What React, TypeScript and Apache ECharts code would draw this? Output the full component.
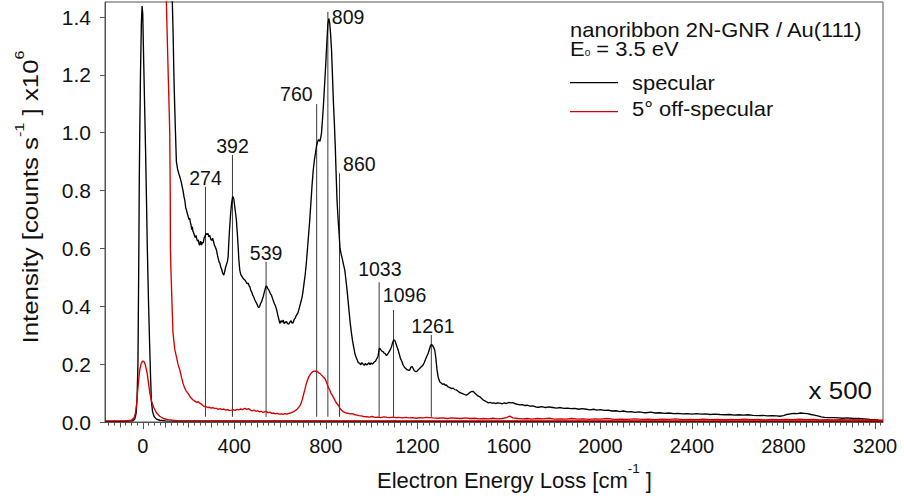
import { useEffect, useRef } from 'react';
import * as echarts from 'echarts';

const FONT = '"Liberation Sans", Arial, Helvetica, sans-serif';
const INK = '#111111';
const BLACK = '#000000';
const RED = '#d40000';

// Tick labels
const xTickValues = [0, 400, 800, 1200, 1600, 2000, 2400, 2800, 3200];
const yTickValues = [0, 0.2, 0.4, 0.6, 0.8, 1.0, 1.2, 1.4];

// Specular spectrum, elastic peak (unscaled) [loss cm^-1, intensity x10^6]
const specularElastic: number[][] = [
  [-165, 0.002], [-80, 0.002], [-45, 0.004], [-35, 0.01], [-29, 0.03], [-25, 0.08],
  [-21, 0.2], [-19, 0.4], [-17, 0.6], [-15, 0.85], [-13, 1.0], [-10, 1.2], [-6, 1.38],
  [-3, 1.438], [0, 1.41], [4, 1.25], [8, 1.1], [12, 0.95], [16, 0.78], [20, 0.6],
  [25, 0.42], [30, 0.27], [34, 0.16], [38, 0.07], [43, 0.035], [50, 0.018], [60, 0.01],
  [75, 0.006], [100, 0.004], [150, 0.003], [600, 0.003], [1200, 0.002], [2000, 0.002],
  [3235, 0.002],
];

// Specular spectrum, loss region magnified x500
const specularLoss: number[][] = [
  [129, 1.46], [133, 1.33], [136, 1.2], [140, 1.08], [143, 1.0], [147, 0.9], [152, 0.875],
  [157, 0.86], [162, 0.848], [168, 0.83], [172, 0.815], [176, 0.8], [180, 0.78], [184, 0.765],
  [188, 0.74], [191, 0.733], [195, 0.72], [198, 0.712], [202, 0.7], [205, 0.705], [208, 0.69],
  [211, 0.682], [214, 0.665], [217, 0.675], [219, 0.66], [222, 0.655], [226, 0.645],
  [229, 0.638], [233, 0.645], [236, 0.632], [240, 0.625], [243, 0.63], [246, 0.615],
  [249, 0.612], [253, 0.625], [257, 0.612], [261, 0.622], [264, 0.618], [268, 0.635],
  [272, 0.642], [276, 0.652], [280, 0.648], [285, 0.652], [289, 0.64], [293, 0.645],
  [297, 0.632], [301, 0.628], [305, 0.635], [309, 0.625], [313, 0.612], [317, 0.605],
  [322, 0.595], [326, 0.578], [330, 0.565], [334, 0.552], [337, 0.549], [341, 0.535],
  [345, 0.528], [349, 0.515], [354, 0.508], [358, 0.52], [362, 0.535], [366, 0.545],
  [370, 0.555], [373, 0.57], [376, 0.62], [380, 0.675], [384, 0.72], [388, 0.755],
  [392, 0.775], [395, 0.779], [398, 0.77], [402, 0.745], [406, 0.72], [409, 0.7],
  [413, 0.655], [417, 0.606], [420, 0.56], [424, 0.525], [428, 0.51], [432, 0.505],
  [436, 0.5], [440, 0.495], [446, 0.491], [451, 0.485], [456, 0.478], [461, 0.48],
  [465, 0.47], [468, 0.468], [472, 0.455], [476, 0.45], [480, 0.44], [485, 0.432],
  [490, 0.422], [494, 0.415], [498, 0.41], [503, 0.4], [507, 0.395], [511, 0.4],
  [515, 0.41], [519, 0.415], [523, 0.425], [527, 0.435], [531, 0.448], [535, 0.46],
  [539, 0.47], [543, 0.468], [547, 0.46], [552, 0.455], [557, 0.445], [562, 0.439],
  [566, 0.43], [571, 0.418], [576, 0.408], [581, 0.399], [586, 0.385], [590, 0.37],
  [595, 0.355], [599, 0.341], [604, 0.35], [609, 0.345], [614, 0.352], [618, 0.34],
  [623, 0.345], [628, 0.347], [633, 0.34], [638, 0.338], [643, 0.345], [648, 0.35],
  [652, 0.342], [657, 0.343], [662, 0.355], [667, 0.36], [672, 0.37], [677, 0.375],
  [681, 0.385], [686, 0.4], [691, 0.415], [696, 0.43], [700, 0.45], [705, 0.48],
  [710, 0.51], [715, 0.55], [720, 0.6], [725, 0.65], [730, 0.7], [735, 0.76], [740, 0.82],
  [745, 0.87], [750, 0.905], [755, 0.93], [759, 0.952], [763, 0.965], [767, 0.975],
  [771, 0.975], [774, 0.97], [777, 0.98], [781, 0.998], [785, 1.04], [790, 1.1],
  [795, 1.171], [800, 1.24], [805, 1.32], [809, 1.375], [813, 1.395], [817, 1.38],
  [821, 1.34], [825, 1.286], [829, 1.2], [833, 1.11], [837, 1.04], [841, 0.96],
  [845, 0.86], [849, 0.767], [853, 0.71], [858, 0.652], [862, 0.6], [867, 0.58],
  [872, 0.565], [877, 0.545], [883, 0.525], [888, 0.49], [893, 0.455], [897, 0.422],
  [902, 0.38], [907, 0.34], [912, 0.307], [917, 0.28], [922, 0.258], [927, 0.237],
  [932, 0.225], [937, 0.215], [942, 0.205], [948, 0.203], [953, 0.198], [958, 0.205],
  [963, 0.2], [968, 0.196], [973, 0.203], [978, 0.197], [983, 0.2], [988, 0.205],
  [993, 0.198], [998, 0.204], [1003, 0.2], [1007, 0.203], [1012, 0.208], [1017, 0.21],
  [1022, 0.218], [1028, 0.226], [1033, 0.252], [1036, 0.255], [1040, 0.25], [1045, 0.245],
  [1050, 0.243], [1055, 0.238], [1060, 0.236], [1064, 0.23], [1068, 0.232], [1073, 0.238],
  [1078, 0.245], [1083, 0.252], [1087, 0.26], [1091, 0.272], [1096, 0.283], [1101, 0.283],
  [1106, 0.272], [1111, 0.26], [1116, 0.249], [1121, 0.235], [1126, 0.22], [1132, 0.21],
  [1138, 0.197], [1143, 0.19], [1148, 0.186], [1153, 0.182], [1158, 0.18], [1163, 0.178],
  [1167, 0.18], [1172, 0.19], [1176, 0.192], [1181, 0.186], [1186, 0.178], [1191, 0.175],
  [1196, 0.174], [1201, 0.178], [1206, 0.182], [1211, 0.186], [1216, 0.19], [1220, 0.193],
  [1225, 0.197], [1230, 0.205], [1235, 0.215], [1240, 0.225], [1247, 0.237], [1252, 0.25],
  [1257, 0.262], [1262, 0.268], [1266, 0.265], [1271, 0.258], [1276, 0.249], [1281, 0.22],
  [1286, 0.18], [1291, 0.155], [1298, 0.139], [1304, 0.135], [1310, 0.13], [1316, 0.132],
  [1322, 0.127], [1327, 0.128], [1333, 0.122], [1339, 0.12], [1345, 0.118], [1351, 0.115],
  [1357, 0.117], [1363, 0.112], [1371, 0.111], [1378, 0.106], [1385, 0.102], [1392, 0.1],
  [1400, 0.097], [1408, 0.095], [1415, 0.093], [1422, 0.097], [1429, 0.102], [1436, 0.105],
  [1444, 0.106], [1451, 0.1], [1458, 0.095], [1465, 0.09], [1473, 0.087], [1480, 0.082],
  [1488, 0.076], [1495, 0.073], [1502, 0.07], [1510, 0.066], [1518, 0.068], [1526, 0.065],
  [1534, 0.066], [1542, 0.064], [1550, 0.066], [1560, 0.065], [1570, 0.063], [1580, 0.066],
  [1590, 0.064], [1600, 0.068], [1610, 0.066], [1618, 0.067], [1628, 0.063], [1638, 0.061],
  [1648, 0.059], [1660, 0.06], [1670, 0.057], [1680, 0.058], [1692, 0.055], [1705, 0.056],
  [1718, 0.052], [1730, 0.051], [1745, 0.053], [1760, 0.05], [1775, 0.052], [1792, 0.05],
  [1808, 0.048], [1825, 0.05], [1840, 0.047], [1856, 0.048], [1872, 0.046], [1888, 0.047],
  [1905, 0.044], [1920, 0.046], [1939, 0.044], [1955, 0.042], [1970, 0.044], [1985, 0.041],
  [2000, 0.043], [2018, 0.04], [2035, 0.041], [2050, 0.038], [2068, 0.039], [2085, 0.036],
  [2100, 0.038], [2118, 0.035], [2135, 0.036], [2150, 0.033], [2168, 0.035], [2185, 0.033],
  [2200, 0.032], [2220, 0.034], [2240, 0.031], [2260, 0.032], [2280, 0.03], [2300, 0.031],
  [2320, 0.029], [2340, 0.03], [2360, 0.028], [2380, 0.029], [2400, 0.027], [2420, 0.029],
  [2440, 0.027], [2460, 0.028], [2480, 0.026], [2500, 0.027], [2522, 0.026], [2545, 0.025],
  [2565, 0.026], [2585, 0.024], [2605, 0.025], [2625, 0.024], [2645, 0.025], [2667, 0.023],
  [2690, 0.022], [2710, 0.023], [2730, 0.021], [2750, 0.022], [2770, 0.021], [2784, 0.02],
  [2800, 0.022], [2815, 0.026], [2830, 0.028], [2845, 0.03], [2860, 0.029], [2875, 0.031],
  [2890, 0.03], [2905, 0.029], [2920, 0.026], [2935, 0.024], [2950, 0.021], [2965, 0.018],
  [2980, 0.016], [3000, 0.015], [3020, 0.015], [3040, 0.014], [3060, 0.013], [3080, 0.014],
  [3105, 0.012], [3130, 0.012], [3155, 0.011], [3178, 0.009], [3200, 0.008], [3215, 0.007],
];

// 5° off-specular spectrum, elastic peak (unscaled)
const offSpecularElastic: number[][] = [
  [-165, 0.004], [-80, 0.004], [-50, 0.006], [-38, 0.015], [-32, 0.03], [-27, 0.06],
  [-23, 0.1], [-18, 0.145], [-13, 0.18], [-7, 0.202], [0, 0.211], [6, 0.208], [12, 0.195],
  [19, 0.17], [25, 0.135], [31, 0.1], [39, 0.07], [48, 0.05], [60, 0.032], [74, 0.02],
  [90, 0.012], [110, 0.008], [150, 0.005], [300, 0.004], [1000, 0.004], [2000, 0.004],
  [3235, 0.004],
];

// 5° off-specular spectrum, loss region magnified x500
const offSpecularLoss: number[][] = [
  [103, 1.46], [108, 1.3], [113, 1.15], [118, 1.0], [120, 0.8], [121, 0.6], [123, 0.53],
  [125, 0.48], [129, 0.38], [132, 0.31], [136, 0.28], [140, 0.25], [147, 0.226], [154, 0.2],
  [162, 0.18], [169, 0.155], [176, 0.134], [183, 0.118], [190, 0.107], [198, 0.099],
  [205, 0.09], [212, 0.082], [220, 0.076], [228, 0.072], [236, 0.068], [243, 0.07],
  [249, 0.065], [256, 0.062], [264, 0.056], [271, 0.053], [278, 0.052], [285, 0.05],
  [292, 0.051], [299, 0.048], [306, 0.05], [314, 0.047], [322, 0.047], [330, 0.044],
  [338, 0.046], [346, 0.043], [354, 0.045], [362, 0.041], [370, 0.043], [378, 0.04],
  [388, 0.041], [396, 0.043], [404, 0.04], [412, 0.044], [420, 0.042], [428, 0.045],
  [436, 0.043], [446, 0.047], [454, 0.044], [462, 0.046], [470, 0.042], [478, 0.038],
  [486, 0.041], [494, 0.037], [502, 0.039], [510, 0.035], [518, 0.037], [526, 0.033],
  [534, 0.036], [541, 0.036], [548, 0.032], [556, 0.034], [564, 0.03], [572, 0.031],
  [580, 0.028], [588, 0.03], [596, 0.027], [606, 0.028], [614, 0.026], [622, 0.029],
  [630, 0.027], [638, 0.03], [645, 0.031], [652, 0.033], [660, 0.036], [668, 0.04],
  [675, 0.045], [681, 0.05], [686, 0.055], [692, 0.065], [698, 0.08], [703, 0.096],
  [708, 0.111], [714, 0.13], [720, 0.145], [725, 0.155], [730, 0.162], [735, 0.168],
  [740, 0.172], [744, 0.174], [749, 0.176], [754, 0.175], [759, 0.177], [764, 0.174],
  [769, 0.17], [774, 0.168], [780, 0.163], [786, 0.158], [790, 0.155], [795, 0.151],
  [801, 0.142], [806, 0.13], [812, 0.118], [817, 0.111], [822, 0.1], [827, 0.094],
  [832, 0.087], [838, 0.078], [843, 0.07], [849, 0.063], [854, 0.059], [860, 0.05],
  [865, 0.044], [870, 0.04], [875, 0.036], [882, 0.033], [890, 0.031], [898, 0.03],
  [906, 0.028], [914, 0.029], [919, 0.028], [928, 0.025], [936, 0.024], [945, 0.022],
  [955, 0.021], [965, 0.019], [978, 0.018], [990, 0.017], [1002, 0.019], [1015, 0.016],
  [1028, 0.017], [1040, 0.015], [1055, 0.018], [1068, 0.016], [1080, 0.015], [1095, 0.017],
  [1108, 0.015], [1120, 0.016], [1135, 0.014], [1150, 0.016], [1165, 0.014], [1180, 0.015],
  [1195, 0.013], [1210, 0.015], [1225, 0.014], [1240, 0.016], [1255, 0.015], [1270, 0.014],
  [1290, 0.013], [1310, 0.014], [1330, 0.012], [1350, 0.014], [1370, 0.013], [1390, 0.012],
  [1410, 0.014], [1430, 0.012], [1450, 0.013], [1470, 0.011], [1490, 0.012], [1510, 0.011],
  [1530, 0.013], [1550, 0.011], [1570, 0.012], [1590, 0.015], [1604, 0.02], [1618, 0.014],
  [1640, 0.012], [1660, 0.011], [1680, 0.012], [1700, 0.01], [1725, 0.012], [1750, 0.011],
  [1775, 0.013], [1800, 0.01], [1825, 0.011], [1850, 0.01], [1875, 0.012], [1900, 0.01],
  [1925, 0.011], [1950, 0.009], [1975, 0.011], [2000, 0.01], [2030, 0.012], [2060, 0.009],
  [2090, 0.01], [2120, 0.009], [2150, 0.011], [2180, 0.009], [2210, 0.01], [2240, 0.008],
  [2270, 0.01], [2300, 0.009], [2330, 0.011], [2360, 0.008], [2390, 0.009], [2420, 0.008],
  [2450, 0.01], [2480, 0.008], [2510, 0.009], [2540, 0.008], [2570, 0.009], [2600, 0.008],
  [2630, 0.01], [2660, 0.008], [2690, 0.009], [2720, 0.007], [2750, 0.009], [2780, 0.008],
  [2810, 0.009], [2840, 0.008], [2870, 0.01], [2900, 0.008], [2930, 0.009], [2960, 0.007],
  [2990, 0.008], [3020, 0.007], [3050, 0.008], [3080, 0.007], [3110, 0.008], [3140, 0.007],
  [3170, 0.006], [3200, 0.007], [3235, 0.006],
];

// Assigned loss peaks (cm^-1) and the height their marker lines reach
const peakPositions = [274, 392, 539, 760, 809, 860, 1033, 1096, 1261];
const peakTops = [0.813, 0.923, 0.554, 1.099, 1.418, 0.86, 0.483, 0.387, 0.301];
const peakBase = 0.018;

// Label placement relative to the top of each marker line (px)
const peakLabelPlacement: { dx: number; dy: number; align: 'left' | 'center' | 'right' }[] = [
  { dx: 0, dy: -8.5, align: 'center' },
  { dx: 0, dy: -9.2, align: 'center' },
  { dx: 0, dy: -8.7, align: 'center' },
  { dx: -4, dy: -10, align: 'right' },
  { dx: 4, dy: 5, align: 'left' },
  { dx: 3.5, dy: -9.3, align: 'left' },
  { dx: 0.7, dy: -12.8, align: 'center' },
  { dx: 11, dy: -15.5, align: 'center' },
  { dx: 1.7, dy: -8.7, align: 'center' },
];

const X_MIN = -165;
const X_MAX = 3235;
const Y_MIN = 0;
const Y_MAX = 1.452;

function tickRange(step: number, skip: number): number[] {
  const out: number[] = [];
  for (let v = Math.ceil(X_MIN / step) * step; v <= X_MAX; v += step) {
    if (v % skip !== 0) out.push(v);
  }
  return out;
}
const xMinorTicks = tickRange(25, 100);
const xMediumTicks = tickRange(100, 400);

const AXIS_COLOR = '#555555';
const CURVE_WIDTH = 1.35;

function lineSeries(name: string, data: number[][], color: string) {
  return {
    name,
    type: 'line',
    data,
    xAxisIndex: 0,
    yAxisIndex: 0,
    showSymbol: false,
    symbol: 'none',
    silent: true,
    lineStyle: { color, width: CURVE_WIDTH },
    itemStyle: { color },
  };
}

function tickAxis(values: number[], length: number) {
  return {
    type: 'value',
    gridIndex: 0,
    position: 'bottom',
    min: X_MIN,
    max: X_MAX,
    axisLine: { show: false, onZero: false },
    axisLabel: { show: false },
    splitLine: { show: false },
    axisTick: {
      show: true,
      length,
      customValues: values,
      lineStyle: { color: AXIS_COLOR, width: 1 },
    },
  };
}

const supRich = (size: number, line: number) => ({
  m: { fontSize: size, lineHeight: line, fontFamily: FONT, fill: INK },
  s: { fontSize: 13.5, lineHeight: 13, verticalAlign: 'top', fontFamily: FONT, fill: INK },
});

function legendText(text: string, x: number, y: number) {
  return {
    type: 'text',
    x,
    y,
    scaleX: 1.07,
    silent: true,
    style: {
      text: `{m|${text}}`,
      rich: { m: { fontSize: 20.5, lineHeight: 18, fontFamily: FONT, fill: INK } },
      align: 'left',
      verticalAlign: 'middle',
    },
  };
}

const option = {
  animation: false,
  textStyle: { fontFamily: FONT, color: INK },
  grid: {
    left: 105,
    right: 21,
    top: 2,
    bottom: 78,
    show: true,
    borderColor: AXIS_COLOR,
    borderWidth: 1,
    backgroundColor: 'transparent',
  },
  xAxis: [
    {
      type: 'value',
      gridIndex: 0,
      position: 'bottom',
      min: X_MIN,
      max: X_MAX,
      axisLine: { show: true, onZero: false, lineStyle: { color: AXIS_COLOR, width: 1 } },
      axisTick: {
        show: true,
        length: 7,
        customValues: xTickValues,
        lineStyle: { color: AXIS_COLOR, width: 1 },
      },
      axisLabel: {
        customValues: xTickValues,
        fontSize: 20,
        color: INK,
        fontFamily: FONT,
        margin: 14,
        formatter: (v: number) => String(Math.round(v)),
      },
      splitLine: { show: false },
    },
    tickAxis(xMediumTicks, 5.5),
    tickAxis(xMinorTicks, 3.5),
  ],
  yAxis: {
    type: 'value',
    min: Y_MIN,
    max: Y_MAX,
    axisLine: { show: true, onZero: false, lineStyle: { color: AXIS_COLOR, width: 1 } },
    axisTick: {
      show: true,
      length: 5,
      customValues: yTickValues,
      lineStyle: { color: AXIS_COLOR, width: 1 },
    },
    axisLabel: {
      customValues: yTickValues,
      fontSize: 21,
      color: INK,
      fontFamily: FONT,
      margin: 14,
      formatter: (v: number) => v.toFixed(1),
    },
    splitLine: { show: false },
  },
  series: [
    {
      type: 'custom',
      name: 'peaks',
      coordinateSystem: 'cartesian2d',
      xAxisIndex: 0,
      yAxisIndex: 0,
      silent: true,
      clip: false,
      data: peakPositions.map((p, i) => [p, peakTops[i]]),
      encode: { x: 0, y: 1 },
      renderItem: (params: any, api: any) => {
        const x = api.value(0) as number;
        const top = api.value(1) as number;
        const p0 = api.coord([x, peakBase]);
        const p1 = api.coord([x, top]);
        const place = peakLabelPlacement[params.dataIndex];
        return {
          type: 'group',
          children: [
            {
              type: 'line',
              shape: { x1: p0[0], y1: p0[1], x2: p1[0], y2: p1[1] },
              style: { stroke: '#3a3a3a', lineWidth: 1 },
            },
            {
              type: 'text',
              x: p1[0] + place.dx,
              y: p1[1] + place.dy,
              style: {
                text: String(x),
                align: place.align,
                verticalAlign: 'middle',
                fontSize: 19.5,
                fontFamily: FONT,
                fill: INK,
              },
            },
          ],
        };
      },
    },
    lineSeries('specular', specularElastic, BLACK),
    lineSeries('specular', specularLoss, BLACK),
    lineSeries('5° off-specular', offSpecularElastic, RED),
    lineSeries('5° off-specular', offSpecularLoss, RED),
  ],
  graphic: [
    {
      type: 'text',
      x: 31,
      y: 197,
      rotation: Math.PI / 2,
      scaleX: 1.2,
      silent: true,
      style: {
        text: '{m|Intensity [counts s}{s|-1}{m| ] x10}{s|6}',
        rich: supRich(21.5, 37),
        align: 'center',
        verticalAlign: 'middle',
      },
    },
    {
      type: 'text',
      x: 514.5,
      y: 480,
      silent: true,
      style: {
        text: '{m|Electron Energy Loss [cm}{s|-1}{m| ]}',
        rich: supRich(22, 37),
        align: 'center',
        verticalAlign: 'middle',
      },
    },
    legendText('nanoribbon 2N-GNR / Au(111)', 570, 29.7),
    {
      type: 'text',
      x: 570,
      y: 49,
      scaleX: 1.07,
      silent: true,
      style: {
        text: '{m|E}{b|0}{m| = 3.5 eV}',
        rich: {
          m: { fontSize: 20.5, lineHeight: 18, fontFamily: FONT, fill: INK },
          b: { fontSize: 9.5, lineHeight: 8, verticalAlign: 'bottom', fontFamily: FONT, fill: INK },
        },
        align: 'left',
        verticalAlign: 'middle',
      },
    },
    {
      type: 'line',
      silent: true,
      shape: { x1: 570, y1: 82.7, x2: 618, y2: 82.7 },
      style: { stroke: BLACK, lineWidth: 1.3 },
    },
    legendText('specular', 632, 82.5),
    {
      type: 'line',
      silent: true,
      shape: { x1: 570, y1: 111.7, x2: 618, y2: 111.7 },
      style: { stroke: RED, lineWidth: 1.3 },
    },
    legendText('5° off-specular', 632, 108.5),
    {
      type: 'text',
      x: 872,
      y: 390,
      scaleX: 1.08,
      originX: 0,
      silent: true,
      style: {
        text: 'x 500',
        fontSize: 24,
        fontFamily: FONT,
        fill: INK,
        align: 'right',
        verticalAlign: 'middle',
      },
    },
  ],
};

export default function App() {
  const ref = useRef<HTMLDivElement>(null);
  useEffect(() => {
    document.body.style.margin = '0';
    const chart = echarts.init(ref.current as HTMLDivElement, null, { renderer: 'svg' });
    chart.setOption(option as any);
    return () => chart.dispose();
  }, []);
  return (
    <div
      ref={ref}
      style={{ position: 'absolute', left: 0, top: 0, width: 904, height: 500 }}
    />
  );
}
